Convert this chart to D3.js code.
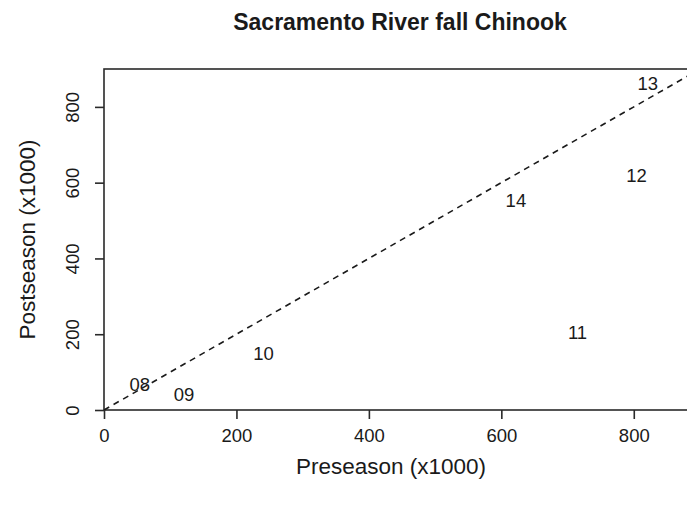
<!DOCTYPE html>
<html>
<head>
<meta charset="utf-8">
<script src="https://cdn.jsdelivr.net/npm/d3@7"></script>
<style>
  html, body { margin: 0; padding: 0; background: #fff; }
  svg { display: block; }
  text { font-family: "Liberation Sans", Arial, sans-serif; fill: #1a1a1a; }
</style>
</head>
<body>
<svg id="chart" width="687" height="505"></svg>
<script>
// Run-size estimates (thousands of fish), labelled by two-digit year
const years = ["08", "09", "10", "11", "12", "13", "14"];
const preseason = [54, 121, 241, 715, 804, 821, 622];
const postseason = [68, 40, 150, 204, 620, 862, 554];
const xTicks = [0, 200, 400, 600, 800];
const yTicks = [0, 200, 400, 600, 800];
const domainMax = 900;

const svg = d3.select("#chart");
const margin = { left: 104, top: 69, right: 700, bottom: 410 };

const x = d3.scaleLinear().domain([0, domainMax]).range([margin.left, margin.right]);
const y = d3.scaleLinear().domain([0, domainMax]).range([margin.bottom, margin.top]);

// Title
svg.append("text")
  .attr("x", 400)
  .attr("y", 30)
  .attr("text-anchor", "middle")
  .attr("font-weight", "bold")
  .attr("font-size", 23)
  .text("Sacramento River fall Chinook");

// Plot frame
svg.append("rect")
  .attr("x", margin.left)
  .attr("y", margin.top)
  .attr("width", margin.right - margin.left)
  .attr("height", margin.bottom - margin.top)
  .attr("fill", "none")
  .attr("stroke", "#2a2a2a")
  .attr("stroke-width", 1.6);

// 1:1 reference line
svg.append("line")
  .attr("x1", x(0)).attr("y1", y(0))
  .attr("x2", x(domainMax)).attr("y2", y(domainMax))
  .attr("stroke", "#1a1a1a")
  .attr("stroke-width", 1.6)
  .attr("stroke-dasharray", "6,5");

// Axes
const xAxis = d3.axisBottom(x).tickValues(xTicks).tickSize(9).tickPadding(10).tickFormat(d3.format("d"));
const gx = svg.append("g").attr("transform", `translate(0,${margin.bottom})`).call(xAxis);
gx.select(".domain").remove();
gx.selectAll(".tick line").attr("stroke", "#2a2a2a").attr("stroke-width", 1.6);
gx.selectAll(".tick text").attr("font-size", 18.5).attr("font-family", "Liberation Sans, Arial, sans-serif").attr("fill", "#1a1a1a");

const yAxis = d3.axisLeft(y).tickValues(yTicks).tickSize(9).tickPadding(10).tickFormat(d3.format("d"));
const gy = svg.append("g").attr("transform", `translate(${margin.left},0)`).call(yAxis);
gy.select(".domain").remove();
gy.selectAll(".tick line").attr("stroke", "#2a2a2a").attr("stroke-width", 1.6);
gy.selectAll(".tick text")
  .attr("font-size", 18.5)
  .attr("font-family", "Liberation Sans, Arial, sans-serif")
  .attr("fill", "#1a1a1a")
  .attr("text-anchor", "middle")
  .attr("x", null)
  .attr("dy", null)
  .attr("transform", "translate(-32,0) rotate(-90)")
  .attr("dominant-baseline", "central");

// Axis titles
svg.append("text")
  .attr("x", 391)
  .attr("y", 474)
  .attr("text-anchor", "middle")
  .attr("font-size", 22.5)
  .text("Preseason (x1000)");

svg.append("text")
  .attr("transform", `translate(35,${(margin.top + margin.bottom) / 2}) rotate(-90)`)
  .attr("text-anchor", "middle")
  .attr("font-size", 22.5)
  .text("Postseason (x1000)");

// Year labels placed at each (preseason, postseason) pair
svg.append("g").selectAll("text")
  .data(years.map((yr, i) => ({ yr, pre: preseason[i], post: postseason[i] })))
  .join("text")
  .attr("x", d => x(d.pre))
  .attr("y", d => y(d.post))
  .attr("text-anchor", "middle")
  .attr("dominant-baseline", "central")
  .attr("font-size", 18.5)
  .text(d => d.yr);
</script>
</body>
</html>
